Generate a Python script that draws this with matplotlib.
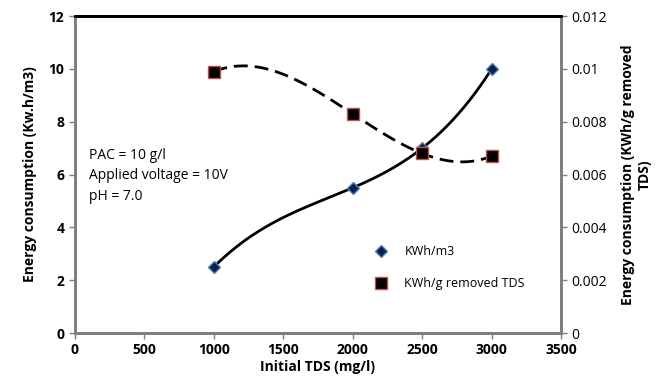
import numpy as np
import matplotlib
matplotlib.use('Agg')
import matplotlib.pyplot as plt

plt.rcParams['font.family'] = ['Open Sans', 'DejaVu Sans']

tds = [1000, 2000, 2500, 3000]
kwh_m3 = [2.5, 5.5, 7.0, 10.0]
kwh_g = [0.0099, 0.0083, 0.0068, 0.0067]


def smooth(xs, ys, n=200):
    # smooth curve through the points (cubic through all four)
    c = np.polyfit(xs, ys, len(xs) - 1)
    xx = np.linspace(min(xs), max(xs), n)
    return xx, np.polyval(c, xx)


fig = plt.figure(figsize=(6.68, 3.85), dpi=100)
ax = fig.add_axes([0.112, 0.135, 0.728, 0.823])
ax2 = ax.twinx()

ax.set_xlim(0, 3500)
ax.set_ylim(0, 12)
ax2.set_ylim(0, 0.012)
ax.set_xticks(range(0, 3501, 500))
ax.set_yticks(range(0, 13, 2))
ax2.set_yticks([0, 0.002, 0.004, 0.006, 0.008, 0.01, 0.012])
ax2.set_yticklabels(['0', '0.002', '0.004', '0.006', '0.008', '0.01', '0.012'])

sx, sy = smooth(tds, kwh_m3)
ax.plot(sx, sy, color='black', lw=2, zorder=2)
ax.plot(tds, kwh_m3, ls='none', marker='D', ms=6, mfc='#0d1f4a', mec='#4f81bd', mew=1,
        label='KWh/m3', zorder=3)
sx2, sy2 = smooth(tds, kwh_g)
ax2.plot(sx2, sy2, color='black', lw=2, ls=(0, (5, 2.5)), zorder=2)
ax2.plot(tds, kwh_g, ls='none', marker='s', ms=9, mfc='black', mec='#c0504d', mew=1,
         label='KWh/g removed TDS', zorder=3)

for a in (ax, ax2):
    for s in a.spines.values():
        s.set_color('#7f7f7f')
        s.set_linewidth(2)
    a.spines['top'].set_color('black')
    a.tick_params(direction='out', length=4, width=1, color='#7f7f7f')

ax.tick_params(labelsize=10)
for lab in ax.get_xticklabels() + ax.get_yticklabels():
    lab.set_fontweight('bold')
ax2.tick_params(labelsize=10)

ax.set_xlabel('Initial TDS (mg/l)', fontsize=10, fontweight='bold', labelpad=2)
ax.set_ylabel('Energy consumption (Kw.h/m3)', fontsize=10, fontweight='bold', labelpad=8)
ax2.set_ylabel('Energy consumption (KWh/g removed\nTDS)', fontsize=10, fontweight='bold',
               labelpad=10)

ax.text(100, 5.95, 'PAC = 10 g/l\nApplied voltage = 10V\npH = 7.0', fontsize=10,
        linespacing=1.5, va='center')

h1, l1 = ax.get_legend_handles_labels()
h2, l2 = ax2.get_legend_handles_labels()
ax2.legend(h1 + h2, l1 + l2, loc='lower left', bbox_to_anchor=(0.58, 0.1), frameon=False,
           fontsize=9, labelspacing=1.5, handletextpad=0.9)

fig.savefig('out.png', dpi=100)
